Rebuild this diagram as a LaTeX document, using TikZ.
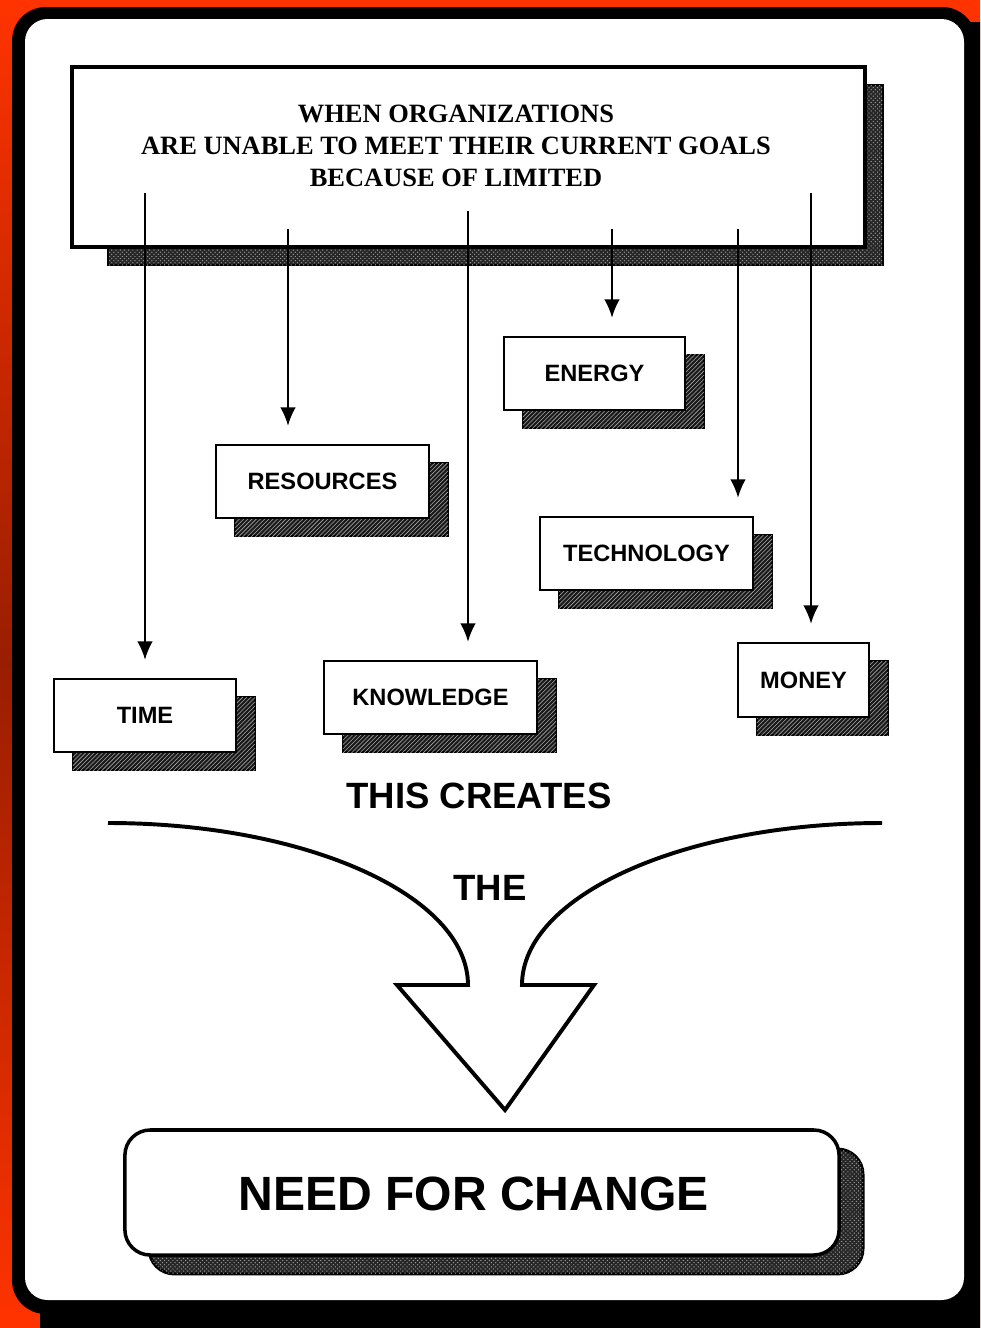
\documentclass[tikz,border=0pt]{standalone}
\usepackage{fontspec}
\setmainfont{Liberation Serif}
\setsansfont{Liberation Sans}
\usetikzlibrary{calc}
\usetikzlibrary{arrows.meta}
\usetikzlibrary{shadows}
\usetikzlibrary{patterns}

\definecolor{frameorange}{HTML}{FF3300}
\definecolor{framered}{HTML}{991E00}

\begin{document}
\begin{tikzpicture}[x=0.025cm, y=-0.025cm,
    card/.style={draw, line width=1.4pt, fill=white, inner sep=0pt,
        minimum height=1.825cm, font=\sffamily\bfseries\fontsize{16.8}{20}\selectfont,
        copy shadow={shadow xshift=0.475cm, shadow yshift=-0.45cm, fill=black!90,
            draw=black, line width=1pt,
            postaction={pattern=north east lines, pattern color=gray!70}}},
    bigshade/.style={fill=black!85, draw=black, line width=2pt,
        postaction={pattern=crosshatch dots, pattern color=gray!80}},
    headbox/.style={draw, line width=2.8pt, fill=white, inner sep=0pt},
    needbox/.style={draw, line width=2.5pt, fill=white, rounded corners=18pt,
        minimum width=17.85cm, minimum height=3.125cm,
        copy shadow={shadow xshift=0.6cm, shadow yshift=-0.475cm, fill=black!85,
            draw=black, line width=2pt,
            postaction={pattern=crosshatch dots, pattern color=gray!80}}},
    arr/.style={line width=1.3pt, -{Latex[length=13pt,width=11pt]}, shorten >=13pt},
    bigarrow/.style={line width=2.8pt},
    bigtext/.style={font=\sffamily\bfseries\fontsize{26}{30}\selectfont}
]

    \useasboundingbox (0,0) rectangle (980,1328);
    \clip (0,0) rectangle (980,1328);

    % frame
    \shade[top color=frameorange, bottom color=frameorange, middle color=framered] (0,0) rectangle (980,1328);
    \fill[black, rounded corners=24pt] (12,7) rectangle (976,1314);
    \fill[black, rounded corners=24pt] (40,22) rectangle (1010,1360);
    \fill[white, rounded corners=16pt] (25,19) rectangle (964,1300);

    % goal box
    \path[bigshade] (108,85) rectangle (883,265);
    \node[headbox, minimum width=19.825cm, minimum height=4.5cm] (head) at (468.5,157) {};
    \node[font=\bfseries\fontsize{18.8}{22.7}\selectfont, align=center] (goal) at (456,146)
        {WHEN ORGANIZATIONS\\ARE UNABLE TO MEET THEIR CURRENT GOALS\\BECAUSE OF LIMITED};

    % limits
    \node[card, minimum width=4.55cm] (time) at (145,715.5) {TIME};
    \node[card, minimum width=5.325cm] (resources) at (322.5,481.5) {RESOURCES};
    \node[card, minimum width=5.325cm] (knowledge) at (430.5,697.5) {KNOWLEDGE};
    \node[card, minimum width=4.525cm] (energy) at (594.5,373.5) {ENERGY};
    \node[card, minimum width=5.325cm] (technology) at (646.5,553.5) {TECHNOLOGY};
    \node[card, minimum width=3.275cm, minimum height=1.85cm] (money) at (803.5,680) {MONEY};

    \coordinate (tS) at (145,193);
    \coordinate (rS) at (288,229);
    \coordinate (kS) at (468,211);
    \coordinate (eS) at (612,229);
    \coordinate (cS) at (738,229);
    \coordinate (mS) at (811,193);

    \draw[arr] (tS) -- (tS |- time.north);
    \draw[arr] (rS) -- (rS |- resources.north);
    \draw[arr] (kS) -- (kS |- knowledge.north);
    \draw[arr] (eS) -- (eS |- energy.north);
    \draw[arr] (cS) -- (cS |- technology.north);
    \draw[arr] (mS) -- (mS |- money.north);

    % funnel
    \node[bigtext] (creates) at (479,796) {THIS CREATES};
    \node[bigtext] (the) at (490,888) {THE};
    \draw[bigarrow] (108,823) .. controls (307,823) and (468,896) .. (468,985)
        -- (397,985) -- (505,1110) -- (594,985) -- (522,985)
        .. controls (522,896) and (683,823) .. (882,823);

    \node[needbox] (need) at (482,1192.5) {};
    \node[font=\sffamily\bfseries\fontsize{34.2}{40}\selectfont] (needtext) at (473.5,1194) {NEED FOR CHANGE};

\end{tikzpicture}
\end{document}
